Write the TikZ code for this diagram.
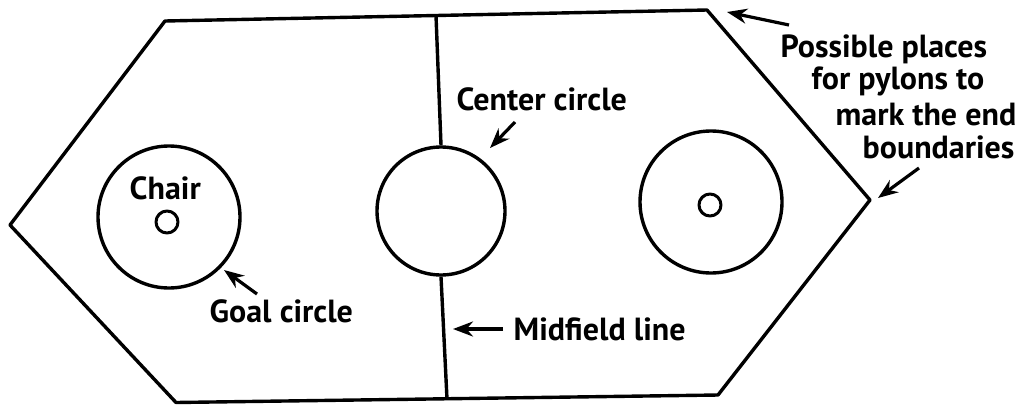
\documentclass[tikz,border=0pt]{standalone}
\usepackage{fontspec}
\setmainfont{PT Sans}
\usetikzlibrary{arrows.meta}
\begin{document}
\begin{tikzpicture}[x=1pt,y=-1pt, line width=3.4pt, line join=round,
  lbl/.style={font=\bfseries\fontsize{32}{36}\selectfont, inner sep=0pt, anchor=base west},
  ring/.style={circle, draw, inner sep=0pt, line width=3.4pt},
  pointer/.style={line width=3.2pt, -{Stealth[length=20pt,width=15pt]}}]
\useasboundingbox (0,0) rectangle (1025,405);
% field outline
\coordinate (L)  at (10,225);
\coordinate (TL) at (165,21);
\coordinate (TR) at (707,10);
\coordinate (R)  at (870,200);
\coordinate (BR) at (718,395);
\coordinate (BL) at (176,402.5);
\draw (L) -- (TL) -- (TR) -- (R) -- (BR) -- (BL) -- cycle;
% circles
\node[ring, minimum size=142pt] (goalA) at (169,217) {};
\node[ring, minimum size=142pt] (goalB) at (711,202) {};
\node[ring, minimum size=128pt] (center) at (441,211) {};
\node[ring, minimum size=22pt, line width=3pt] (chairA) at (167,222) {};
\node[ring, minimum size=22pt, line width=3pt] (chairB) at (710,205) {};
% midfield line
\coordinate (midtop) at (436,15.5);
\coordinate (midbot) at (447,399);
\draw (midtop) -- (center.north);
\draw (center.south) -- (midbot);
% labels
\node[lbl] (chairlbl) at (128,199) {Chair};
\node[lbl] (goallbl) at (208,322) {Goal circle};
\node[lbl] (centerlbl) at (455,110) {Center circle};
\node[lbl] (midlbl) at (512,340) {Midfield line};
\node[lbl] (p1) at (779,57) {Possible places};
\node[lbl] (p2) at (810,89) {for pylons to};
\node[lbl] (p3) at (834,125) {mark the end};
\node[lbl] (p4) at (861,158) {boundaries};
% pointers
\coordinate (goaltail) at (257,294);
\coordinate (goalhead) at (224,270);
\coordinate (centail) at (515,122);
\coordinate (cenhead) at (490,148);
\coordinate (midtail) at (503,329);
\coordinate (midhead) at (453,329);
\coordinate (pyltailA) at (789,25);
\coordinate (pylheadA) at (727,12);
\coordinate (pyltailB) at (919,168);
\coordinate (pylheadB) at (878,198);
\draw[pointer] (goaltail) -- (goalhead);
\draw[pointer] (centail) -- (cenhead);
\draw[pointer] (midtail) -- (midhead);
\draw[pointer] (pyltailA) -- (pylheadA);
\draw[pointer] (pyltailB) -- (pylheadB);
\end{tikzpicture}
\end{document}
